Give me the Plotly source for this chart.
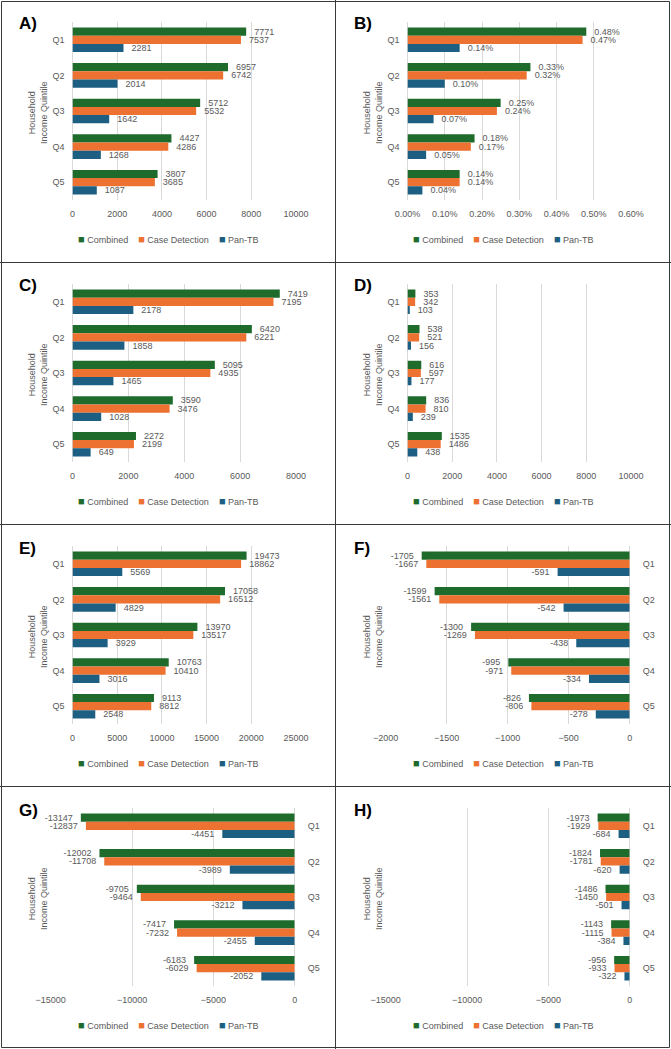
import plotly.graph_objects as go

W, H = 671, 1049

quintiles = ["Q1", "Q2", "Q3", "Q4", "Q5"]
series_names = ["Combined", "Case Detection", "Pan-TB"]
series_colors = ["#1E6B2B", "#ED7131", "#1D5F82"]

A_combined = [7771, 6957, 5712, 4427, 3807]
A_case = [7537, 6742, 5532, 4286, 3685]
A_pan = [2281, 2014, 1642, 1268, 1087]

B_combined = [0.48, 0.33, 0.25, 0.18, 0.14]
B_case = [0.47, 0.32, 0.24, 0.17, 0.14]
B_pan = [0.14, 0.10, 0.07, 0.05, 0.04]

C_combined = [7419, 6420, 5095, 3590, 2272]
C_case = [7195, 6221, 4935, 3476, 2199]
C_pan = [2178, 1858, 1465, 1028, 649]

D_combined = [353, 538, 616, 836, 1535]
D_case = [342, 521, 597, 810, 1486]
D_pan = [103, 156, 177, 239, 438]

E_combined = [19473, 17058, 13970, 10763, 9113]
E_case = [18862, 16512, 13517, 10410, 8812]
E_pan = [5569, 4829, 3929, 3016, 2548]

F_combined = [-1705, -1599, -1300, -995, -826]
F_case = [-1667, -1561, -1269, -971, -806]
F_pan = [-591, -542, -438, -334, -278]

G_combined = [-13147, -12002, -9705, -7417, -6183]
G_case = [-12837, -11708, -9464, -7232, -6029]
G_pan = [-4451, -3989, -3212, -2455, -2052]

H_combined = [-1973, -1824, -1486, -1143, -956]
H_case = [-1929, -1781, -1450, -1115, -933]
H_pan = [-684, -620, -501, -384, -322]

panels = [
    dict(label="A)", data=[A_combined, A_case, A_pan], rng=[0, 10000], dtick=2000, pct=False),
    dict(label="B)", data=[B_combined, B_case, B_pan], rng=[0, 0.6], dtick=0.1, pct=True),
    dict(label="C)", data=[C_combined, C_case, C_pan], rng=[0, 8000], dtick=2000, pct=False),
    dict(label="D)", data=[D_combined, D_case, D_pan], rng=[0, 10000], dtick=2000, pct=False),
    dict(label="E)", data=[E_combined, E_case, E_pan], rng=[0, 25000], dtick=5000, pct=False),
    dict(label="F)", data=[F_combined, F_case, F_pan], rng=[-2000, 0], dtick=500, pct=False),
    dict(label="G)", data=[G_combined, G_case, G_pan], rng=[-15000, 0], dtick=5000, pct=False),
    dict(label="H)", data=[H_combined, H_case, H_pan], rng=[-15000, 0], dtick=5000, pct=False),
]

FONT = "Liberation Sans, Arial, sans-serif"
GRAY = "#595959"
GRID = "#D9D9D9"
NB = "\u00a0"

fig = go.Figure()
layout = dict(
    width=W, height=H, margin=dict(l=0, r=0, t=0, b=0, pad=0),
    autosize=False,
    paper_bgcolor="white", plot_bgcolor="white",
    barmode="group", bargap=0.31, bargroupgap=0,
    font=dict(family=FONT, size=9, color=GRAY),
    showlegend=False,
    annotations=[], shapes=[],
)

legend_text = (NB * 4).join(
    f"<span style='color:{c};font-size:11px'>■</span>{NB}{n}"
    for n, c in zip(series_names, series_colors)
)

row_tops = [0, 262, 524, 786]
for i, p in enumerate(panels):
    col, row = i % 2, i // 2
    left = 0 if col == 0 else 335
    top = row_tops[row]
    neg = p["rng"][1] <= 0
    if neg:
        px0, px1 = left + 50.7, left + 294.7
    else:
        px0, px1 = left + 72.5, left + 296
    py0, py1 = top + 22, top + 200
    n = i + 1
    xname = "x" if n == 1 else f"x{n}"
    yname = "y" if n == 1 else f"y{n}"
    xkey = "xaxis" if n == 1 else f"xaxis{n}"
    ykey = "yaxis" if n == 1 else f"yaxis{n}"

    for vals, name, color in zip(p["data"], series_names, series_colors):
        if p["pct"]:
            txt = [f"{v:.2f}%" for v in vals]
        else:
            txt = [f"{v}" for v in vals]
        if neg:
            txt = [t + NB * 2 for t in txt]
        else:
            txt = [NB * 2 + t for t in txt]
        fig.add_trace(go.Bar(
            x=vals, y=quintiles, orientation="h", name=name,
            marker=dict(color=color, line=dict(width=0)),
            text=txt, textposition="outside", cliponaxis=False,
            constraintext="none",
            textfont=dict(size=9, color=GRAY, family=FONT),
            hoverinfo="x+y+name",
            xaxis=xname, yaxis=yname,
        ))

    layout[xkey] = dict(
        domain=[px0 / W, px1 / W], range=p["rng"], dtick=p["dtick"],
        anchor=yname, showgrid=True, gridcolor=GRID, gridwidth=1,
        zeroline=True, zerolinecolor=GRID, zerolinewidth=1,
        showline=False, ticks="", ticklabelstandoff=7, automargin=False,
        tickfont=dict(size=9, color=GRAY),
        tickformat=".2f" if p["pct"] else "d",
        ticksuffix="%" if p["pct"] else "",
        fixedrange=True,
    )
    layout[ykey] = dict(
        domain=[1 - py1 / H, 1 - py0 / H], anchor=xname,
        categoryorder="array", categoryarray=quintiles,
        autorange="reversed", showgrid=False, zeroline=False,
        showline=False, ticks="", side="right" if neg else "left",
        ticklabelstandoff=12 if neg else 7, automargin=False,
        tickfont=dict(size=9, color=GRAY), fixedrange=True,
    )
    layout["annotations"].append(dict(
        text=legend_text, x=(left + 168) / W, y=1 - (top + 239) / H,
        xref="paper", yref="paper", xanchor="center", yanchor="middle",
        showarrow=False, font=dict(size=9, color=GRAY, family=FONT),
    ))
    layout["annotations"].append(dict(
        text=f"<b>{p['label']}</b>", x=(left + 17) / W, y=1 - (top + 24) / H,
        xref="paper", yref="paper", xanchor="left", yanchor="middle",
        showarrow=False, font=dict(size=17, color="black", family=FONT),
    ))
    layout["annotations"].append(dict(
        text="Household<br>Income Quintile", x=(left + 38) / W, y=1 - (top + 113) / H,
        xref="paper", yref="paper", xanchor="center", yanchor="middle",
        textangle=-90, showarrow=False, font=dict(size=9, color=GRAY, family=FONT),
    ))

LINE = dict(color="#3A3A3A", width=1)
layout["shapes"].append(dict(type="rect", xref="paper", yref="paper",
                             x0=1.5 / W, x1=669.5 / W, y0=1.5 / H, y1=1047.5 / H, line=LINE))
layout["shapes"].append(dict(type="line", xref="paper", yref="paper",
                             x0=335.5 / W, x1=335.5 / W, y0=0, y1=1, line=LINE))
for yy in [262.5, 524.5, 786.5]:
    layout["shapes"].append(dict(type="line", xref="paper", yref="paper",
                                 x0=0, x1=1, y0=1 - yy / H, y1=1 - yy / H, line=LINE))

fig.update_layout(**layout)
fig.write_html("out.html", config={"displayModeBar": False},
               post_script="document.body.style.margin='0';")
